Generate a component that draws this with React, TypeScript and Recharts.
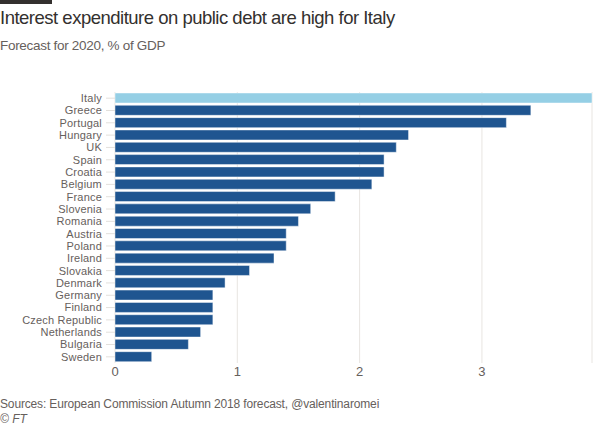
import { BarChart, Bar, Cell, XAxis, YAxis, CartesianGrid } from 'recharts';

const countries = [
  'Italy', 'Greece', 'Portugal', 'Hungary', 'UK', 'Spain', 'Croatia', 'Belgium',
  'France', 'Slovenia', 'Romania', 'Austria', 'Poland', 'Ireland', 'Slovakia',
  'Denmark', 'Germany', 'Finland', 'Czech Republic', 'Netherlands', 'Bulgaria', 'Sweden',
];
const interest = [
  3.9, 3.4, 3.2, 2.4, 2.3, 2.2, 2.2, 2.1, 1.8, 1.6, 1.5, 1.4, 1.4, 1.3, 1.1,
  0.9, 0.8, 0.8, 0.8, 0.7, 0.6, 0.3,
];
const xTicks = [0, 1, 2, 3];
const highlighted = 'Italy';

const DARK = '#1f5590';
const LIGHT = '#95cfe5';
const FONT = '"Liberation Sans", Arial, sans-serif';

const data = countries.map((name, i) => ({ name, value: interest[i] }));

export default function App() {
  return (
    <div style={{ position: 'absolute', top: 0, left: 0, width: 600, height: 429, background: '#fff', fontFamily: FONT }}>
      <div style={{ position: 'absolute', top: 0, left: 0, width: 52, height: 4, background: '#33302e' }} />
      <div style={{ position: 'absolute', top: 7, left: 0, fontSize: 18.5, letterSpacing: -0.5, color: '#33302e', whiteSpace: 'nowrap' }}>
        Interest expenditure on public debt are high for Italy
      </div>
      <div style={{ position: 'absolute', top: 38, left: 0, fontSize: 13.5, letterSpacing: -0.3, color: '#66605c', whiteSpace: 'nowrap' }}>
        Forecast for 2020, % of GDP
      </div>
      <div style={{ position: 'absolute', top: 0, left: 0 }}>
        <BarChart
          width={600}
          height={429}
          layout="vertical"
          data={data}
          margin={{ top: 92, right: 8, bottom: 46, left: 0 }}
        >
          <CartesianGrid horizontal={false} stroke="#e8e5e1" />
          <XAxis
            type="number"
            domain={[0, 3.9]}
            ticks={xTicks}
            axisLine={false}
            tickLine={false}
            tickSize={2}
            height={20}
            tick={{ fill: '#66605c', fontSize: 13, fontFamily: FONT }}
          />
          <YAxis
            type="category"
            dataKey="name"
            width={115}
            interval={0}
            axisLine={false}
            tickSize={9}
            tickMargin={4}
            tickLine={{ stroke: '#e3e0dc' }}
            tick={{ fill: '#66605c', fontSize: 11, letterSpacing: 0.2, fontFamily: FONT }}
          />
          <Bar dataKey="value" barSize={10} stroke="#ffffff" strokeOpacity={0.45} isAnimationActive={false}>
            {data.map((d) => (
              <Cell key={d.name} fill={d.name === highlighted ? LIGHT : DARK} />
            ))}
          </Bar>
        </BarChart>
      </div>
      <div style={{ position: 'absolute', top: 397, left: 0, fontSize: 12, letterSpacing: -0.15, color: '#66605c', whiteSpace: 'nowrap' }}>
        Sources: European Commission Autumn 2018 forecast, @valentinaromei
      </div>
      <div style={{ position: 'absolute', top: 412, left: 0, fontSize: 12, color: '#66605c', fontStyle: 'italic' }}>
        © FT
      </div>
    </div>
  );
}
